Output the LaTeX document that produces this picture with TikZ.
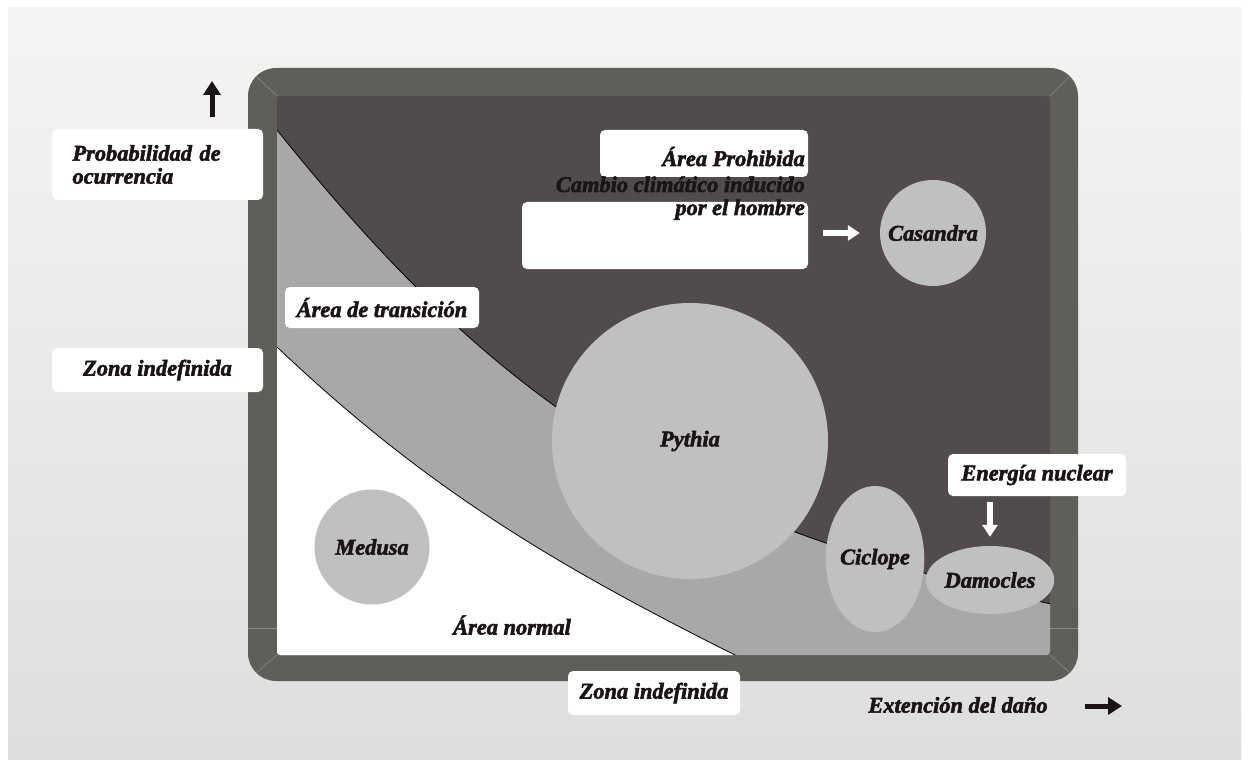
\documentclass[tikz,border=0pt]{standalone}
\usepackage{fontspec}
\setmainfont{Liberation Serif}[BoldItalicFeatures={FakeBold=2.4}]
\usetikzlibrary{arrows.meta,shapes.geometric}
\definecolor{bgtop}{HTML}{F4F4F3}
\definecolor{bgbot}{HTML}{DEDEDE}
\definecolor{framegray}{HTML}{5F5E5A}
\definecolor{bevelgray}{HTML}{8A8984}
\definecolor{darkarea}{HTML}{514B4C}
\definecolor{transgray}{HTML}{A9A8A9}
\definecolor{blobgray}{HTML}{C0C0C0}
\definecolor{inktext}{HTML}{1A1416}
\tikzset{
	lbl/.style={font=\fontsize{22.4}{23}\selectfont\bfseries\itshape, text=inktext, inner sep=0pt},
	wbox/.style={lbl, fill=white, rounded corners=5pt},
	blob/.style={lbl, fill=blobgray},
	barrow/.style={inktext, line width=5pt, -{Triangle[width=17pt,length=14pt]}},
	warrow/.style={white, line width=6pt, -{Triangle[width=15pt,length=12pt]}},
	bevel/.style={bevelgray, line width=0.6pt},
}

\begin{document}
\begin{tikzpicture}[x=1pt, y=-1pt]
			%%%%% START %%%%%
			
			\useasboundingbox (0,0) rectangle (1249,767);
			\fill[white] (0,0) rectangle (1249,767);
			\shade[top color=bgtop, bottom color=bgbot] (8,8) rectangle (1241,759);
			
			% frame
			\fill[framegray, rounded corners=28pt] (248,68) rectangle (1078,681);
			\draw[bevel] (277,96) -- (256,76);
			\draw[bevel] (1050,96) -- (1070,76);
			\draw[bevel] (277,655) -- (256,673);
			\draw[bevel] (1050,655) -- (1070,673);
			\draw[bevel] (248,628) -- (277,628);
			\draw[bevel] (1050,628) -- (1078,628);
			
			% areas
			\begin{scope}
				\clip[rounded corners=3pt] (277,96) rectangle (1050,655);
				\fill[darkarea] (277,96) rectangle (1050,655);
				\fill[transgray] (277,130) .. controls (517,430) and (701,527) .. (1051,604) -- (1055,660) -- (270,660) -- cycle;
				\fill[white] (277,347) .. controls (427,489.5) and (557,566) .. (737,656) -- (270,660) -- cycle;
				\draw[line width=0.8pt] (277,130) .. controls (517,430) and (701,527) .. (1051,604);
				\draw[line width=0.8pt] (277,347) .. controls (427,489.5) and (557,566) .. (737,656);
			\end{scope}
			
			% boxes
			\node[wbox, minimum width=211pt, minimum height=71pt, text width=170pt, align=left] (prob) at (157.5,164.5) {Probabilidad de\\ocurrencia};
			\node[wbox, minimum width=211pt, minimum height=44pt] (zonaizq) at (157.5,370) {Zona indefinida};
			\node[wbox, minimum width=194pt, minimum height=41pt] (transic) at (382,307.5) {Área de transición};
			\node[wbox, minimum width=208pt, minimum height=47pt] (prohibbox) at (704,153.5) {};
			\node[wbox, minimum width=286pt, minimum height=67pt] (cambiobox) at (665,235.5) {};
			\node[lbl, anchor=base east] (prohib) at (805,166) {Área Prohibida};
			\node[lbl, anchor=base east] (cambio) at (805,192) {Cambio climático inducido};
			\node[lbl, anchor=base east] (hombre) at (805,215) {por el hombre};
			\node[wbox, minimum width=178pt, minimum height=42pt] (energia) at (1037,475) {Energía nuclear};
			\node[wbox, minimum width=172pt, minimum height=44pt] (zonainf) at (654,693) {Zona indefinida};
			
			% circles
			\node[blob, circle, minimum size=106pt] (casandra) at (933,233) {Casandra};
			\node[blob, circle, minimum size=276pt] (pythia) at (690,441) {Pythia};
			\node[blob, circle, minimum size=115pt] (medusa) at (372,547) {Medusa};
			\node[blob, ellipse, minimum width=92pt, minimum height=146pt] (ciclope) at (875,559) {Ciclope};
			\node[blob, ellipse, minimum width=108pt, minimum height=68pt] (damocles) at (990,580) {Damocles};
			
			\node[lbl] (normal) at (512,625) {Área normal};
			\node[lbl] (extension) at (958,705) {Extención del daño};
			
			% arrows
			\coordinate (ejey0) at (212,117);
			\coordinate (ejey1) at (212,81);
			\draw[barrow] (ejey0) -- (ejey1);
			\coordinate (ejex0) at (1085,706);
			\coordinate (ejex1) at (1122,706);
			\draw[barrow] (ejex0) -- (ejex1);
			\draw[warrow, shorten <=15pt, shorten >=20pt] (cambiobox.east |- casandra) -- (casandra.west);
			\draw[warrow, shorten <=6pt, shorten >=9pt] (energia.south -| damocles) -- (damocles.north);
			
			%%%%% END %%%%%
\end{tikzpicture}
\end{document}
